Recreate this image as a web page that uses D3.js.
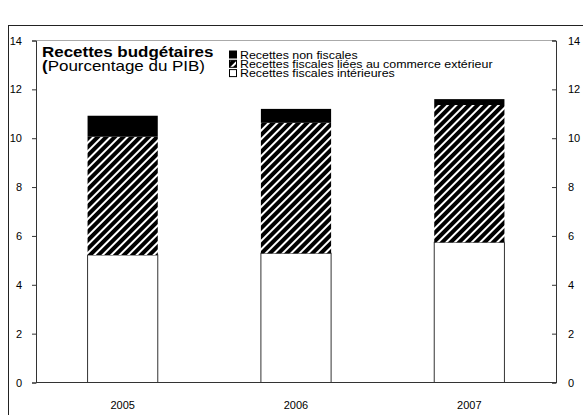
<!DOCTYPE html>
<html>
<head>
<meta charset="utf-8">
<script src="https://cdn.jsdelivr.net/npm/d3@7"></script>
<style>
body { margin: 0; background: #fff; }
text { font-family: "Liberation Sans", Arial, sans-serif; }
</style>
</head>
<body>
<div id="chart"></div>
<script>
var years = ["2005", "2006", "2007"];
var domestic = [5.22, 5.29, 5.74];
var trade = [4.84, 5.34, 5.62];
var nonTax = [0.86, 0.57, 0.24];
var yTicks = [0, 2, 4, 6, 8, 10, 12, 14];
var legendLabels = ["Recettes non fiscales",
    "Recettes fiscales liées au commerce extérieur",
    "Recettes fiscales intérieures"];

var width = 583, height = 415;
var plotLeft = 36, plotRight = 556, plotTop = 40.5, plotBottom = 382.5;
// the title and legend text in the original is a bit wider than Arial
var stretch = 1.17;

var svg = d3.select("#chart").append("svg")
    .attr("width", width)
    .attr("height", height);

// hatch pattern for trade taxes
var pattern = svg.append("defs").append("pattern")
    .attr("id", "hatch")
    .attr("patternUnits", "userSpaceOnUse")
    .attr("width", 6)
    .attr("height", 6)
    .attr("patternTransform", "rotate(45)");
pattern.append("rect").attr("width", 6).attr("height", 6).attr("fill", "#000");
pattern.append("rect").attr("width", 2).attr("height", 6).attr("fill", "#fff");

// outer frame
svg.append("rect")
    .attr("x", 8.5).attr("y", 25.5)
    .attr("width", 600).attr("height", 420)
    .attr("fill", "none")
    .attr("stroke", "#222");

var x = d3.scaleBand()
    .domain(years)
    .range([plotLeft, plotRight])
    .paddingInner(0.595)
    .paddingOuter(0.2975);

var y = d3.scaleLinear()
    .domain([0, 14])
    .range([plotBottom, plotTop]);

var rows = years.map(function(yr, i) {
    return { year: yr, domestic: domestic[i], trade: trade[i], nonTax: nonTax[i] };
});
var keys = ["domestic", "trade", "nonTax"];
var fills = { domestic: "#fff", trade: "url(#hatch)", nonTax: "#000" };
var series = d3.stack().keys(keys)(rows);

// top border of plot area
svg.append("line")
    .attr("x1", plotLeft).attr("x2", plotRight)
    .attr("y1", plotTop).attr("y2", plotTop)
    .attr("stroke", "#aaa");

series.forEach(function(s) {
    svg.append("g").selectAll("rect")
        .data(s)
        .enter()
        .append("rect")
        .attr("x", function(d) { return x(d.data.year); })
        .attr("y", function(d) { return y(d[1]); })
        .attr("width", x.bandwidth())
        .attr("height", function(d) { return y(d[0]) - y(d[1]); })
        .attr("fill", fills[s.key])
        .attr("stroke", s.key == "domestic" ? "#333" : "none")
        .attr("stroke-width", 1);
});

// axes
var axisL = svg.append("g")
    .attr("transform", "translate(" + plotLeft + ",0)")
    .call(d3.axisLeft(y).tickValues(yTicks).tickSize(4).tickPadding(10));
var axisR = svg.append("g")
    .attr("transform", "translate(" + plotRight + ",0)")
    .call(d3.axisRight(y).tickValues(yTicks).tickSize(-4).tickPadding(12));
[axisL, axisR].forEach(function(a) {
    a.select(".domain").attr("stroke", "#333");
    a.selectAll(".tick line").attr("stroke", "#333");
    a.selectAll("text")
        .attr("fill", "#000")
        .style("font-size", "11px")
        .style("font-family", "'Liberation Sans', Arial, sans-serif");
});

svg.append("line")
    .attr("x1", plotLeft).attr("x2", plotRight)
    .attr("y1", plotBottom).attr("y2", plotBottom)
    .attr("stroke", "#333");

svg.append("g").selectAll("text")
    .data(years)
    .enter()
    .append("text")
    .attr("x", function(d) { return x(d) + x.bandwidth() / 2; })
    .attr("y", plotBottom + 26)
    .attr("text-anchor", "middle")
    .style("font-size", "11px")
    .text(function(d) { return d; });

// title
svg.append("text")
    .attr("transform", "translate(42,57) scale(" + stretch + ",1)")
    .style("font-size", "14.5px")
    .style("font-weight", "bold")
    .text("Recettes budgétaires");
var sub = svg.append("text")
    .attr("transform", "translate(42,71) scale(" + stretch + ",1)")
    .style("font-size", "14.5px");
sub.append("tspan").style("font-weight", "bold").text("(");
sub.append("tspan").text("Pourcentage du PIB)");

// legend
var legendFills = ["#000", "url(#hatch)", "#fff"];
var legend = svg.append("g").selectAll("g")
    .data(legendLabels)
    .enter()
    .append("g")
    .attr("transform", function(d, i) { return "translate(229," + (50.5 + i * 9.3) + ")"; });
legend.append("rect")
    .attr("x", 0.5).attr("y", 0.5)
    .attr("width", 7).attr("height", 7)
    .attr("fill", function(d, i) { return legendFills[i]; })
    .attr("stroke", "#000");
legend.append("text")
    .attr("transform", "translate(11,8) scale(" + stretch + ",1)")
    .style("font-size", "10.6px")
    .text(function(d) { return d; });
</script>
</body>
</html>
